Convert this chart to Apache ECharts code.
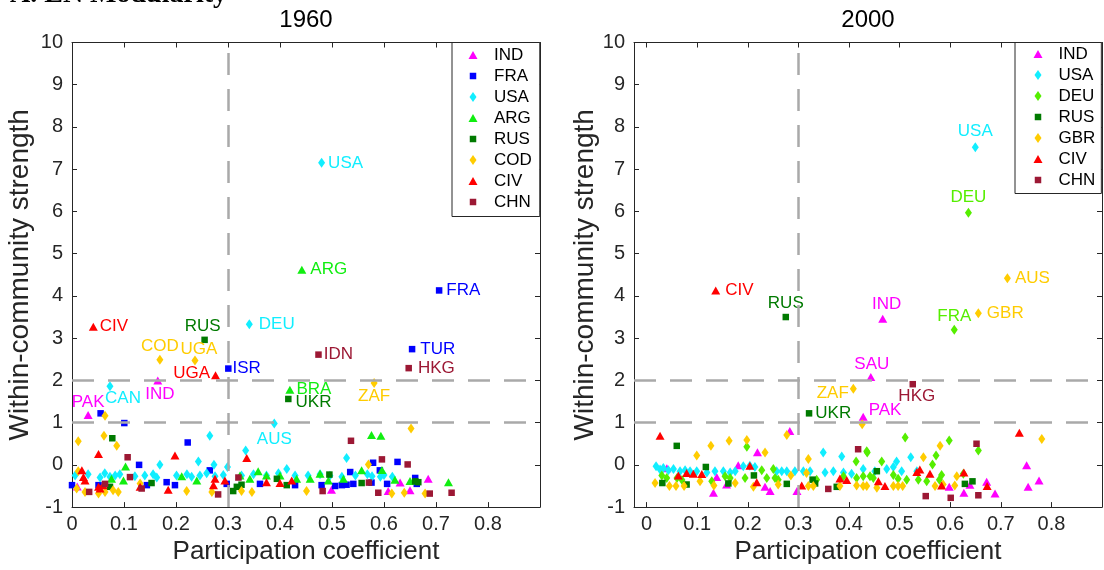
<!DOCTYPE html>
<html>
<head>
<meta charset="utf-8">
<title>EN Modularity</title>
<script src="https://cdn.jsdelivr.net/npm/echarts@6/dist/echarts.min.js"></script>
<style>
  html, body { margin: 0; padding: 0; background: #fff; }
  #chart { width: 1104px; height: 570px; }
</style>
</head>
<body>
<div id="chart"></div>
<script>
// ---------- data: [participation coefficient, within-community strength] ----------
const years = ['1960', '2000'];
const xTicks = [0, 0.1, 0.2, 0.3, 0.4, 0.5, 0.6, 0.7, 0.8];
const yTicks = [-1, 0, 1, 2, 3, 4, 5, 6, 7, 8, 9, 10];
const hubLinesY = [1, 2];
const hubLineX = [0.3];

// 1960 communities
const ind1960 = [[0.010,-0.51],[0.499,-0.59],[0.608,-0.62],[0.631,-0.42],[0.650,-0.60],[0.685,-0.33]];
const ind1960Named = [['PAK',0.031,1.18],['IND',0.165,2.00]];
const fra1960 = [[0.055,1.22],[0.1006,0.99],[0.2225,0.53],[0.129,0.00],[0.265,-0.13],[0.000,-0.48],[0.051,-0.48],[0.144,-0.48],[0.182,-0.41],[0.198,-0.48],[0.2975,-0.45],[0.3615,-0.45],[0.429,-0.48],[0.480,-0.48],[0.506,-0.50],[0.519,-0.48],[0.528,-0.47],[0.541,-0.45],[0.576,-0.42],[0.592,-0.13],[0.606,-0.45],[0.660,-0.31],[0.663,-0.45],[0.535,-0.17],[0.579,0.05],[0.626,0.07]];
const fra1960Named = [['FRA',0.706,4.13],['TUR',0.654,2.74],['ISR',0.3006,2.28]];
const usa1960 = [[0.265,0.69],[0.334,0.34],[0.169,0.00],[0.243,0.08],[0.273,0.00],[0.299,-0.05],[0.528,0.16],[0.006,-0.25],[0.031,-0.22],[0.054,-0.30],[0.063,-0.20],[0.073,-0.28],[0.083,-0.25],[0.092,-0.22],[0.121,-0.27],[0.140,-0.25],[0.156,-0.22],[0.163,-0.30],[0.201,-0.25],[0.221,-0.22],[0.230,-0.28],[0.246,-0.25],[0.259,-0.20],[0.275,-0.27],[0.291,-0.24],[0.326,-0.25],[0.349,-0.22],[0.374,-0.25],[0.397,-0.20],[0.413,-0.10],[0.429,-0.25],[0.454,-0.25],[0.477,-0.22],[0.496,-0.26],[0.519,-0.28],[0.545,-0.25],[0.568,-0.22],[0.577,-0.27],[0.593,-0.28],[0.600,-0.24],[0.616,-0.28]];
const usa1960Named = [['USA',0.480,7.15],['DEU',0.341,3.33],['CAN',0.073,1.86],['AUS',0.389,0.98]];
const arg1960 = [[0.576,0.71],[0.594,0.69],[0.103,-0.04],[0.076,-0.33],[0.099,-0.37],[0.211,-0.27],[0.240,-0.37],[0.323,-0.25],[0.342,-0.33],[0.358,-0.15],[0.374,-0.25],[0.400,-0.25],[0.432,-0.33],[0.458,-0.33],[0.477,-0.21],[0.493,-0.37],[0.522,-0.33],[0.557,-0.13],[0.596,-0.12],[0.621,-0.35],[0.650,-0.38],[0.724,-0.41]];
const arg1960Named = [['ARG',0.442,4.62],['BRA',0.419,1.78]];
const rus1960 = [[0.0775,0.63],[0.073,-0.52],[0.153,-0.43],[0.310,-0.62],[0.317,-0.52],[0.326,-0.47],[0.394,-0.33],[0.413,-0.48],[0.495,-0.23],[0.557,-0.43],[0.660,-0.39],[0.666,-0.41]];
const rus1960Named = [['RUS',0.255,2.96],['UKR',0.416,1.56]];
const cod1960 = [[0.652,0.86],[0.0635,1.16],[0.012,0.56],[0.0615,0.69],[0.086,0.455],[0.570,0.01],[0.012,-0.15],[0.009,-0.56],[0.025,-0.64],[0.051,-0.68],[0.0635,-0.64],[0.079,-0.60],[0.089,-0.64],[0.131,-0.44],[0.2205,-0.62],[0.269,-0.64],[0.326,-0.62],[0.346,-0.64],[0.451,-0.62],[0.615,-0.68],[0.639,-0.66],[0.679,-0.68]];
const cod1960Named = [['COD',0.169,2.49],['UGA',0.2365,2.47],['ZAF',0.581,1.94]];
const civ1960 = [[0.051,0.26],[0.198,0.22],[0.336,0.16],[0.019,-0.13],[0.022,-0.29],[0.025,-0.37],[0.051,-0.52],[0.054,-0.56],[0.060,-0.48],[0.131,-0.52],[0.185,-0.59],[0.272,-0.48],[0.275,-0.33],[0.294,-0.37],[0.374,-0.41],[0.400,-0.43],[0.4225,-0.37]];
const civ1960Named = [['CIV',0.041,3.27],['UGA',0.276,2.12]];
const chn1960 = [[0.5365,0.57],[0.596,0.13],[0.6455,0.01],[0.107,0.18],[0.033,-0.64],[0.0635,-0.45],[0.1115,-0.29],[0.134,-0.56],[0.281,-0.70],[0.320,-0.30],[0.482,-0.62],[0.571,-0.42],[0.589,-0.66],[0.688,-0.68],[0.730,-0.66]];
const chn1960Named = [['IDN',0.474,2.61],['HKG',0.6475,2.29]];

// 2000 communities
const ind2000 = [[0.283,0.80],[0.219,0.30],[0.040,-0.08],[0.132,-0.66],[0.1385,-0.29],[0.158,-0.465],[0.181,-0.01],[0.234,-0.52],[0.244,-0.62],[0.297,-0.62],[0.751,-0.01],[0.754,-0.52],[0.7755,-0.37],[0.598,-0.52],[0.627,-0.66],[0.672,-0.40],[0.6886,-0.68],[0.639,-0.47]];
const ind2000Named = [['IND',0.4666,3.46],['SAU',0.443,2.08],['PAK',0.428,1.14]];
const usa2000 = [[0.349,0.29],[0.3856,0.20],[0.522,0.18],[0.494,0.08],[0.0186,-0.035],[0.0265,-0.11],[0.033,-0.075],[0.043,-0.13],[0.053,-0.10],[0.066,-0.15],[0.076,-0.13],[0.0858,-0.15],[0.099,-0.15],[0.119,-0.18],[0.135,-0.15],[0.1516,-0.15],[0.165,-0.18],[0.175,-0.15],[0.191,-0.035],[0.204,-0.02],[0.214,-0.05],[0.257,-0.15],[0.267,-0.15],[0.277,-0.15],[0.293,-0.15],[0.3097,-0.15],[0.323,-0.15],[0.3526,-0.18],[0.369,-0.15],[0.389,-0.18],[0.405,-0.21],[0.428,-0.10],[0.451,-0.15],[0.4745,-0.10],[0.4876,-0.05],[0.504,-0.15],[0.534,-0.15]];
const usa2000Named = [['USA',0.6496,7.52]];
const deu2000 = [[0.198,0.43],[0.436,0.29],[0.414,0.08],[0.511,0.65],[0.598,0.575],[0.6556,0.34],[0.435,0.32],[0.572,0.22],[0.4646,0.08],[0.565,0.01],[0.030,-0.25],[0.0397,-0.31],[0.060,-0.31],[0.0698,-0.36],[0.1287,-0.39],[0.155,-0.27],[0.165,-0.31],[0.1945,-0.31],[0.2275,-0.13],[0.2374,-0.31],[0.2504,-0.10],[0.2537,-0.31],[0.260,-0.35],[0.336,-0.35],[0.389,-0.27],[0.415,-0.31],[0.428,-0.27],[0.4415,-0.27],[0.448,-0.31],[0.4876,-0.24],[0.497,-0.33],[0.514,-0.35],[0.537,-0.35],[0.5535,-0.39],[0.5786,-0.35],[0.583,-0.24],[0.626,-0.21]];
const deu2000Named = [['DEU',0.636,5.97],['FRA',0.608,3.20]];
const rus2000 = [[0.0595,0.45],[0.031,-0.43],[0.079,-0.465],[0.117,-0.05],[0.1615,-0.44],[0.212,-0.25],[0.277,-0.45],[0.328,-0.35],[0.333,-0.44],[0.3757,-0.52],[0.455,-0.15],[0.629,-0.45],[0.644,-0.39]];
const rus2000Named = [['RUS',0.275,3.50],['UKR',0.321,1.22]];
const gbr2000 = [[0.426,0.96],[0.099,0.22],[0.127,0.45],[0.163,0.57],[0.198,0.59],[0.234,0.29],[0.277,0.71],[0.3196,0.14],[0.781,0.61],[0.580,0.45],[0.547,0.18],[0.0166,-0.43],[0.045,-0.50],[0.058,-0.50],[0.074,-0.50],[0.1055,-0.39],[0.133,-0.49],[0.175,-0.43],[0.211,-0.52],[0.260,-0.465],[0.285,-0.25],[0.316,-0.19],[0.3196,-0.50],[0.3295,-0.50],[0.382,-0.50],[0.415,-0.49],[0.428,-0.50],[0.435,-0.50],[0.455,-0.54],[0.4876,-0.50],[0.497,-0.50],[0.506,-0.50],[0.570,-0.50],[0.586,-0.465],[0.609,-0.49],[0.613,-0.27]];
const gbr2000Named = [['AUS',0.713,4.42],['GBR',0.6556,3.59],['ZAF',0.4085,1.80]];
const civ2000 = [[0.0265,0.69],[0.7366,0.76],[0.0627,-0.25],[0.079,-0.19],[0.0923,-0.21],[0.109,-0.215],[0.204,-0.02],[0.2176,-0.41],[0.3065,-0.49],[0.382,-0.325],[0.3955,-0.36],[0.458,-0.39],[0.540,-0.11],[0.534,-0.17],[0.560,-0.21],[0.627,-0.18],[0.471,-0.50],[0.583,-0.49],[0.673,-0.50]];
const civ2000Named = [['CIV',0.1365,4.13]];
const chn2000 = [[0.418,0.37],[0.652,0.50],[0.359,-0.57],[0.5516,-0.74],[0.601,-0.78],[0.6556,-0.72]];
const chn2000Named = [['HKG',0.526,1.91]];

const groups1960 = [
  ['IND', ind1960, ind1960Named], ['FRA', fra1960, fra1960Named], ['USA', usa1960, usa1960Named],
  ['ARG', arg1960, arg1960Named], ['RUS', rus1960, rus1960Named], ['COD', cod1960, cod1960Named],
  ['CIV', civ1960, civ1960Named], ['CHN', chn1960, chn1960Named]
];
const groups2000 = [
  ['IND', ind2000, ind2000Named], ['USA', usa2000, usa2000Named], ['DEU', deu2000, deu2000Named],
  ['RUS', rus2000, rus2000Named], ['GBR', gbr2000, gbr2000Named], ['CIV', civ2000, civ2000Named],
  ['CHN', chn2000, chn2000Named]
];

// ---------- appearance ----------
const FONT = '"Liberation Sans", Arial, Helvetica, sans-serif';
const AXIS_COLOR = '#262626';

const SHAPES = {
  triangle: { symbol: 'triangle', size: [9, 8], icon: 'path://M0,0M12,12M1.5,10L6,2L10.5,10Z' },
  rect:     { symbol: 'rect', size: [6.5, 6.5], icon: 'path://M0,0M12,12M2.75,2.75L9.25,2.75L9.25,9.25L2.75,9.25Z' },
  diamond:  { symbol: 'diamond', size: [7, 10], icon: 'path://M0,0M12,12M6,1L9.5,6L6,11L2.5,6Z' }
};
const STYLE = {
  IND: { color: '#ff00ff', shape: 'triangle' },
  FRA: { color: '#0000ff', shape: 'rect' },
  USA: { color: '#11eeff', shape: 'diamond' },
  ARG: { color: '#11ee11', shape: 'triangle' },
  RUS: { color: '#007a00', shape: 'rect' },
  COD: { color: '#ffcc00', shape: 'diamond' },
  CIV: { color: '#ff0000', shape: 'triangle' },
  CHN: { color: '#9c1834', shape: 'rect' },
  DEU: { color: '#55ee00', shape: 'diamond' },
  GBR: { color: '#ffcc00', shape: 'diamond' }
};

// where each country label sits relative to its marker
const LABEL_PLACE = {
  '1960:IND:PAK': { position: 'top', distance: 0 },
  '1960:IND:IND': { position: 'bottom', distance: 1, offset: [2, 0] },
  '1960:FRA:FRA': { position: 'right', distance: 4 },
  '1960:FRA:TUR': { position: 'right', distance: 5 },
  '1960:FRA:ISR': { position: 'right', distance: 1 },
  '1960:USA:USA': { position: 'right', distance: 3 },
  '1960:USA:DEU': { position: 'right', distance: 6 },
  '1960:USA:CAN': { position: 'bottom', distance: 0, offset: [13, -1] },
  '1960:USA:AUS': { position: 'bottom', distance: 2 },
  '1960:ARG:ARG': { position: 'right', distance: 4 },
  '1960:ARG:BRA': { position: 'right', distance: 2 },
  '1960:RUS:RUS': { position: 'top', distance: 2, offset: [-2, 0] },
  '1960:RUS:UKR': { position: 'right', distance: 4, offset: [0, 3] },
  '1960:COD:COD': { position: 'top', distance: 0 },
  '1960:COD:UGA': { position: 'top', distance: -2, offset: [4, 0] },
  '1960:COD:ZAF': { position: 'bottom', distance: 0 },
  '1960:CIV:CIV': { position: 'right', distance: 2 },
  '1960:CIV:UGA': { position: 'left', distance: 1, offset: [0, -2] },
  '1960:CHN:IDN': { position: 'right', distance: 2 },
  '1960:CHN:HKG': { position: 'right', distance: 6 },
  '2000:IND:IND': { position: 'top', distance: 2, offset: [4, 0] },
  '2000:IND:SAU': { position: 'top', distance: 0, offset: [1, 0] },
  '2000:IND:PAK': { position: 'right', distance: 1, offset: [0, -6] },
  '2000:USA:USA': { position: 'top', distance: 2 },
  '2000:DEU:DEU': { position: 'top', distance: 2 },
  '2000:DEU:FRA': { position: 'top', distance: 0 },
  '2000:RUS:RUS': { position: 'top', distance: 2 },
  '2000:RUS:UKR': { position: 'right', distance: 3 },
  '2000:GBR:AUS': { position: 'right', distance: 4 },
  '2000:GBR:GBR': { position: 'right', distance: 5 },
  '2000:GBR:ZAF': { position: 'left', distance: 1, offset: [0, 4] },
  '2000:CIV:CIV': { position: 'right', distance: 5 },
  '2000:CHN:HKG': { position: 'bottom', distance: 0, offset: [4, 0] }
};

const PANELS = [
  { year: years[0], groups: groups1960, grid: { left: 72, top: 42.5, width: 468, height: 468 }, xMin: 0, xMax: 0.9,
    yNameGap: 38, legend: { left: 452, top: 42.5, padding: [4, 8, 6, 15], itemWidth: 32 } },
  { year: years[1], groups: groups2000, grid: { left: 634, top: 42.5, width: 468, height: 468 }, xMin: -0.025, xMax: 0.9,
    yNameGap: 32, legend: { left: 1015, top: 42.5, padding: [3, 6, 5, 17], itemWidth: 31 } }
];

const fmtTick = v => String(+(+v).toFixed(1));

const option = {
  animation: false,
  backgroundColor: '#ffffff',
  textStyle: { fontFamily: FONT },
  grid: [], xAxis: [], yAxis: [], legend: [], series: [],
  graphic: [
    { type: 'text', x: 10, y: -5, silent: true,
      style: { text: 'A. EN Modularity', font: 'bold 28px "Liberation Serif", "Times New Roman", serif',
               fill: '#000', align: 'left', verticalAlign: 'middle' } }
  ]
};

PANELS.forEach((p, i) => {
  const g = p.grid;
  option.grid.push(Object.assign({ containLabel: false }, g));

  const tickBase = { show: true, inside: true, length: 5, lineStyle: { color: AXIS_COLOR, width: 1 }, customValues: xTicks };
  const axisLine = { show: true, onZero: false, lineStyle: { color: AXIS_COLOR, width: 1 } };

  // bottom x axis (labels + name) and top x axis (box edge + ticks)
  option.xAxis.push({
    type: 'value', gridIndex: i, position: 'bottom', min: p.xMin, max: p.xMax,
    axisLine, axisTick: tickBase, splitLine: { show: false },
    axisLabel: { customValues: xTicks, formatter: fmtTick, fontSize: 20, color: AXIS_COLOR, margin: 7, fontFamily: FONT },
    name: 'Participation coefficient', nameLocation: 'middle', nameGap: 30,
    nameTextStyle: { fontSize: 26, color: AXIS_COLOR, fontFamily: FONT }
  });
  option.xAxis.push({
    type: 'value', gridIndex: i, position: 'top', min: p.xMin, max: p.xMax,
    axisLine, axisTick: tickBase, axisLabel: { show: false }, splitLine: { show: false }
  });

  const yTickBase = { show: true, inside: true, length: 5, lineStyle: { color: AXIS_COLOR, width: 1 }, customValues: yTicks };
  option.yAxis.push({
    type: 'value', gridIndex: i, position: 'left', min: -1, max: 10, interval: 1,
    axisLine, axisTick: yTickBase, splitLine: { show: false },
    axisLabel: { customValues: yTicks, fontSize: 20, color: AXIS_COLOR, margin: 9, fontFamily: FONT },
    name: 'Within-community strength', nameLocation: 'middle', nameGap: p.yNameGap, nameRotate: 90,
    nameTextStyle: { fontSize: 28, color: AXIS_COLOR, fontFamily: FONT }
  });
  option.yAxis.push({
    type: 'value', gridIndex: i, position: 'right', min: -1, max: 10, interval: 1,
    axisLine, axisTick: yTickBase, axisLabel: { show: false }, splitLine: { show: false }
  });

  const xIdx = i * 2, yIdx = i * 2;

  // year heading above each panel
  option.graphic.push({
    type: 'text', x: g.left + g.width / 2, y: 20, silent: true,
    style: { text: p.year, font: '24px ' + FONT, fill: '#000', align: 'center', verticalAlign: 'middle' }
  });

  // dashed hub thresholds
  option.series.push({
    type: 'scatter', name: '_guides' + i, xAxisIndex: xIdx, yAxisIndex: yIdx, data: [], z: 1, silent: true,
    markLine: {
      silent: true, symbol: 'none', animation: false,
      label: { show: false },
      lineStyle: { color: '#a9a9a9', width: 2.5, type: [22, 14] },
      emphasis: { disabled: true },
      data: hubLinesY.map(v => ({ yAxis: v })).concat(hubLineX.map(v => ({ xAxis: v })))
    }
  });

  p.groups.forEach(([name, pts, named]) => {
    const st = STYLE[name];
    const sh = SHAPES[st.shape];
    const data = pts.map(d => ({ value: d }));
    named.forEach(([label, x, y]) => {
      const place = LABEL_PLACE[p.year + ':' + name + ':' + label] || { position: 'right' };
      data.push({
        name: label, value: [x, y],
        label: Object.assign({ show: true, formatter: '{b}', color: st.color, fontSize: 17, fontFamily: FONT }, place)
      });
    });
    option.series.push({
      type: 'scatter', name, xAxisIndex: xIdx, yAxisIndex: yIdx, z: 2,
      symbol: sh.symbol, symbolSize: sh.size,
      itemStyle: { color: st.color, opacity: 1 },
      label: { show: false },
      emphasis: { disabled: true },
      data
    });
  });

  option.legend.push(Object.assign({
    orient: 'vertical', selectedMode: false,
    backgroundColor: '#ffffff', borderColor: AXIS_COLOR, borderWidth: 1, borderRadius: 0,
    itemHeight: 12, itemGap: 4, symbolKeepAspect: true,
    textStyle: { fontSize: 17, color: '#000', fontFamily: FONT },
    data: p.groups.map(([name]) => ({ name, icon: SHAPES[STYLE[name].shape].icon, itemStyle: { color: STYLE[name].color } }))
  }, p.legend));
});

const chart = echarts.init(document.getElementById('chart'), null, { renderer: 'canvas' });
chart.setOption(option);
</script>
</body>
</html>
